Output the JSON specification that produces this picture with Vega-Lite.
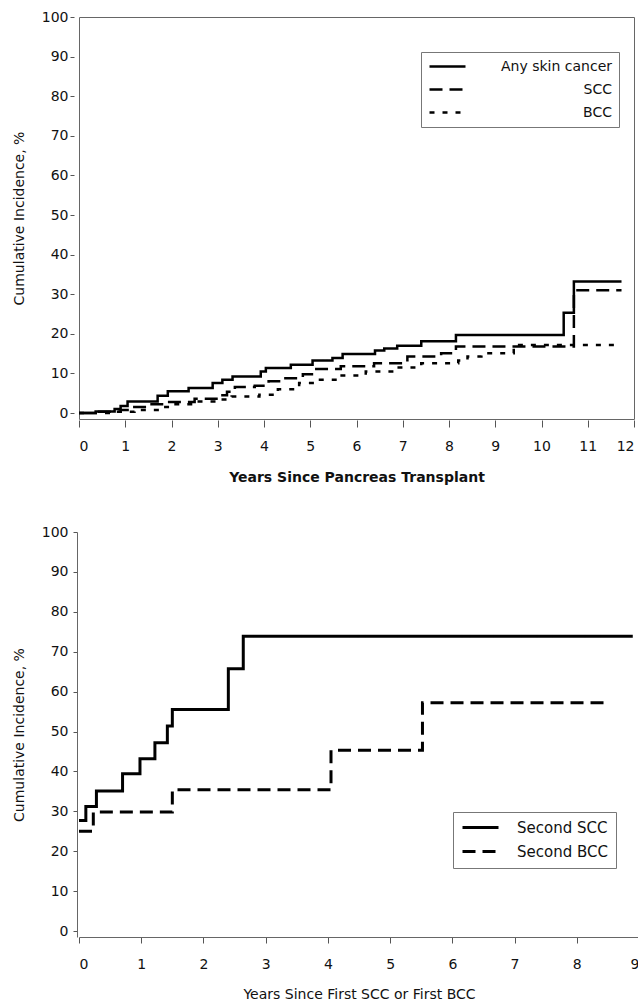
{
  "$schema": "https://vega.github.io/schema/vega-lite/v6.json",
  "background": "white",
  "padding": {"left": 11, "top": 9, "right": 0, "bottom": 0},
  "config": {
    "font": "DejaVu Sans",
    "axis": {"labelFont": "DejaVu Sans", "titleFont": "DejaVu Sans", "labelColor": "#111", "titleColor": "#111", "grid": false, "tickColor": "#555", "domainColor": "#666", "labelFontSize": 14, "titleFontSize": 14},
    "legend": {"labelFont": "DejaVu Sans", "labelColor": "#111"},
    "concat": {"spacing": 40}
  },
  "resolve": {"scale": {"strokeDash": "independent"}, "legend": {"strokeDash": "independent"}},
  "datasets": {
    "top": [
      {"series": "Any skin cancer", "t": 0, "pct": 0},
      {"series": "Any skin cancer", "t": 0.36, "pct": 0.4},
      {"series": "Any skin cancer", "t": 0.77, "pct": 1.0},
      {"series": "Any skin cancer", "t": 0.9, "pct": 1.8},
      {"series": "Any skin cancer", "t": 1.05, "pct": 2.9},
      {"series": "Any skin cancer", "t": 1.7, "pct": 4.4},
      {"series": "Any skin cancer", "t": 1.92, "pct": 5.5},
      {"series": "Any skin cancer", "t": 2.37, "pct": 6.3},
      {"series": "Any skin cancer", "t": 2.89, "pct": 7.6},
      {"series": "Any skin cancer", "t": 3.1, "pct": 8.4},
      {"series": "Any skin cancer", "t": 3.32, "pct": 9.2},
      {"series": "Any skin cancer", "t": 3.93, "pct": 10.5},
      {"series": "Any skin cancer", "t": 4.04, "pct": 11.4},
      {"series": "Any skin cancer", "t": 4.58, "pct": 12.2},
      {"series": "Any skin cancer", "t": 5.05, "pct": 13.3},
      {"series": "Any skin cancer", "t": 5.48, "pct": 13.9},
      {"series": "Any skin cancer", "t": 5.7, "pct": 14.9},
      {"series": "Any skin cancer", "t": 6.4, "pct": 15.8},
      {"series": "Any skin cancer", "t": 6.6, "pct": 16.3},
      {"series": "Any skin cancer", "t": 6.88, "pct": 17.0},
      {"series": "Any skin cancer", "t": 7.4, "pct": 18.1},
      {"series": "Any skin cancer", "t": 8.15, "pct": 19.7},
      {"series": "Any skin cancer", "t": 10.48, "pct": 25.3},
      {"series": "Any skin cancer", "t": 10.7, "pct": 33.2},
      {"series": "Any skin cancer", "t": 11.73, "pct": 33.2},
      {"series": "SCC", "t": 0, "pct": 0},
      {"series": "SCC", "t": 0.4, "pct": 0.3},
      {"series": "SCC", "t": 0.9, "pct": 0.8},
      {"series": "SCC", "t": 1.1, "pct": 1.5},
      {"series": "SCC", "t": 1.5, "pct": 2.2},
      {"series": "SCC", "t": 1.84, "pct": 2.8},
      {"series": "SCC", "t": 2.5, "pct": 3.6},
      {"series": "SCC", "t": 3.0, "pct": 4.5},
      {"series": "SCC", "t": 3.2, "pct": 5.4},
      {"series": "SCC", "t": 3.37, "pct": 6.6},
      {"series": "SCC", "t": 3.8, "pct": 6.9},
      {"series": "SCC", "t": 4.1, "pct": 8.0},
      {"series": "SCC", "t": 4.4, "pct": 8.8},
      {"series": "SCC", "t": 4.84, "pct": 9.8},
      {"series": "SCC", "t": 5.1, "pct": 11.1},
      {"series": "SCC", "t": 5.66, "pct": 11.8},
      {"series": "SCC", "t": 6.38, "pct": 12.6},
      {"series": "SCC", "t": 7.1, "pct": 14.3},
      {"series": "SCC", "t": 7.83, "pct": 15.1},
      {"series": "SCC", "t": 8.15, "pct": 16.8},
      {"series": "SCC", "t": 10.7, "pct": 31.0},
      {"series": "SCC", "t": 11.73, "pct": 31.0},
      {"series": "BCC", "t": 0, "pct": 0},
      {"series": "BCC", "t": 0.8, "pct": 0.3},
      {"series": "BCC", "t": 1.2, "pct": 0.8},
      {"series": "BCC", "t": 1.7, "pct": 1.5},
      {"series": "BCC", "t": 2.0, "pct": 2.2},
      {"series": "BCC", "t": 2.5, "pct": 2.9},
      {"series": "BCC", "t": 3.0, "pct": 3.4},
      {"series": "BCC", "t": 3.3, "pct": 4.2},
      {"series": "BCC", "t": 3.9, "pct": 4.6},
      {"series": "BCC", "t": 4.3, "pct": 6.0},
      {"series": "BCC", "t": 4.76, "pct": 7.6},
      {"series": "BCC", "t": 5.1, "pct": 8.4},
      {"series": "BCC", "t": 5.6, "pct": 9.5},
      {"series": "BCC", "t": 6.2, "pct": 10.5},
      {"series": "BCC", "t": 6.8, "pct": 11.5},
      {"series": "BCC", "t": 7.4, "pct": 12.6},
      {"series": "BCC", "t": 8.2, "pct": 13.3},
      {"series": "BCC", "t": 8.4, "pct": 14.3},
      {"series": "BCC", "t": 8.7, "pct": 15.1},
      {"series": "BCC", "t": 9.4, "pct": 17.2},
      {"series": "BCC", "t": 11.73, "pct": 17.2}
    ],
    "bottom": [
      {"series": "Second SCC", "t": 0, "pct": 27.7},
      {"series": "Second SCC", "t": 0.11, "pct": 31.2},
      {"series": "Second SCC", "t": 0.28, "pct": 35.1},
      {"series": "Second SCC", "t": 0.7, "pct": 39.4},
      {"series": "Second SCC", "t": 0.98, "pct": 43.2},
      {"series": "Second SCC", "t": 1.22, "pct": 47.2},
      {"series": "Second SCC", "t": 1.42, "pct": 51.4},
      {"series": "Second SCC", "t": 1.5, "pct": 55.5},
      {"series": "Second SCC", "t": 2.4, "pct": 65.7},
      {"series": "Second SCC", "t": 2.64, "pct": 73.9},
      {"series": "Second SCC", "t": 8.9, "pct": 73.9},
      {"series": "Second BCC", "t": 0, "pct": 25.0},
      {"series": "Second BCC", "t": 0.23, "pct": 29.8},
      {"series": "Second BCC", "t": 1.5, "pct": 35.4},
      {"series": "Second BCC", "t": 4.05, "pct": 45.3},
      {"series": "Second BCC", "t": 5.52, "pct": 57.2},
      {"series": "Second BCC", "t": 8.45, "pct": 57.2}
    ]
  },
  "vconcat": [
    {
      "width": 555,
      "height": 402,
      "view": {"stroke": "#666", "strokeWidth": 1},
      "data": {"name": "top"},
      "mark": {"type": "line", "interpolate": "step-after", "color": "black", "strokeWidth": 2.5},
      "encoding": {
        "x": {"field": "t", "type": "quantitative", "scale": {"domain": [0, 12], "nice": false},
          "axis": {"title": "Years Since Pancreas Transplant", "values": [0,1,2,3,4,5,6,7,8,9,10,11,12], "domain": false, "offset": 1, "tickSize": 7, "labelPadding": 12, "titlePadding": 17, "titleFontWeight": "bold"}},
        "y": {"field": "pct", "type": "quantitative", "scale": {"domain": [-1.5, 100], "nice": false},
          "axis": {"title": "Cumulative Incidence, %", "titleFontWeight": "normal", "values": [0,10,20,30,40,50,60,70,80,90,100], "domain": false, "offset": 5, "tickSize": 4, "labelPadding": 2, "titlePadding": 15}},
        "strokeDash": {"field": "series", "type": "nominal",
          "scale": {"domain": ["Any skin cancer", "SCC", "BCC"], "range": [[1, 0], [13, 7], [5, 8]]},
          "legend": {"title": null, "orient": "none", "legendX": 342, "legendY": 35, "direction": "vertical",
            "fillColor": "white", "strokeColor": "#777", "padding": 7,
            "symbolType": "M-1,0H5", "symbolSize": 144, "symbolStrokeWidth": 2.5, "symbolStrokeColor": "black", "symbolFillColor": "transparent",
            "labelAlign": "right", "labelOffset": 169, "labelFontSize": 14, "labelLimit": 300, "rowPadding": 8}}
      }
    },
    {
      "width": 560,
      "height": 405,
      "view": {"stroke": null},
      "data": {"name": "bottom"},
      "mark": {"type": "line", "interpolate": "step-after", "color": "black", "strokeWidth": 3},
      "encoding": {
        "x": {"field": "t", "type": "quantitative", "scale": {"domain": [0, 9], "nice": false},
          "axis": {"title": "Years Since First SCC or First BCC", "titleFontWeight": "normal", "values": [0,1,2,3,4,5,6,7,8,9], "domain": true, "tickSize": 6, "labelPadding": 14, "titlePadding": 16}},
        "y": {"field": "pct", "type": "quantitative", "scale": {"domain": [-1.5, 100], "nice": false},
          "axis": {"title": "Cumulative Incidence, %", "titleFontWeight": "normal", "values": [0,10,20,30,40,50,60,70,80,90,100], "domain": true, "offset": 2, "tickSize": 4, "labelPadding": 5, "titlePadding": 15}},
        "strokeDash": {"field": "series", "type": "nominal",
          "scale": {"domain": ["Second SCC", "Second BCC"], "range": [[1, 0], [13, 7]]},
          "legend": {"title": null, "orient": "none", "legendX": 374, "legendY": 280, "direction": "vertical",
            "fillColor": "white", "strokeColor": "#777", "padding": 8,
            "symbolType": "M-1,0H5", "symbolSize": 144, "symbolStrokeWidth": 3, "symbolStrokeColor": "black", "symbolFillColor": "transparent",
            "labelAlign": "left", "labelOffset": 41, "labelFontSize": 15, "labelLimit": 300, "rowPadding": 8}}
      }
    }
  ]
}
